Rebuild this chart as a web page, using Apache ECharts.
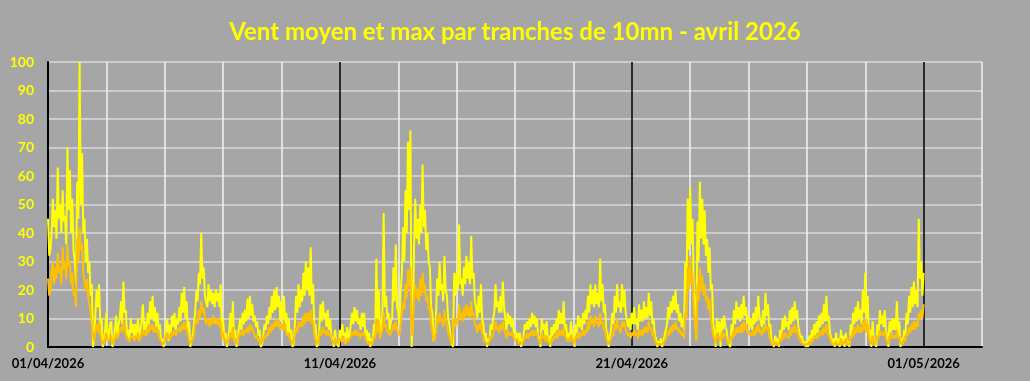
<!DOCTYPE html>
<html>
<head>
<meta charset="utf-8">
<script src="https://cdn.jsdelivr.net/npm/echarts@6/dist/echarts.min.js"></script>
<style>
  html, body { margin: 0; padding: 0; background: #a6a6a6; }
  #chart { width: 1030px; height: 381px; }
</style>
</head>
<body>
<div id="chart"></div>
<script>
// values, km/h, one value per hour (24 per day)
const perDay = 24;

const dateLabels = ['01/04/2026', '11/04/2026', '21/04/2026', '01/05/2026'];

// vent max
const maxWind = [
  45, 32, 34, 40, 52, 42, 48, 38, 63, 45, 50, 40, 55, 44, 46, 36, 70, 48, 62, 40, 52, 34, 30, 22, // 01/04
  58, 45, 100, 50, 68, 40, 45, 30, 38, 26, 30, 18, 22, 0, 3, 12, 20, 14, 22, 8, 10, 0, 2, 6,
  12, 2, 4, 8, 9, 0, 2, 6, 11, 4, 8, 10, 16, 8, 23, 12, 13, 4, 6, 2, 10, 5, 8, 3,
  8, 4, 10, 3, 6, 9, 15, 6, 9, 5, 12, 8, 16, 10, 18, 9, 14, 7, 12, 6, 8, 2, 3, 0,
  3, 6, 10, 2, 8, 5, 11, 7, 12, 6, 10, 8, 14, 9, 19, 12, 21, 10, 16, 5, 9, 0, 2, 4,
  8, 12, 20, 16, 26, 22, 40, 24, 28, 18, 18, 14, 22, 16, 20, 15, 19, 14, 20, 16, 19, 14, 22, 4,
  10, 3, 5, 0, 2, 6, 12, 4, 16, 2, 6, 0, 2, 7, 10, 6, 12, 8, 13, 9, 17, 10, 18, 11,
  15, 9, 11, 7, 9, 4, 6, 0, 1, 4, 8, 6, 11, 8, 14, 10, 18, 12, 20, 13, 21, 14, 18, 9,
  16, 10, 18, 8, 12, 5, 10, 3, 6, 0, 1, 8, 18, 12, 22, 14, 20, 16, 26, 18, 30, 20, 28, 18,
  35, 15, 22, 6, 8, 0, 1, 5, 15, 9, 16, 10, 12, 7, 13, 6, 10, 4, 3, 0, 6, 2, 2, 0,
  6, 3, 8, 4, 5, 2, 7, 3, 4, 8, 12, 8, 14, 9, 13, 8, 10, 6, 12, 7, 12, 4, 6, 2,             // 11/04
  5, 0, 3, 2, 8, 4, 31, 10, 20, 4, 6, 12, 47, 14, 18, 10, 12, 6, 9, 10, 28, 16, 36, 14,
  12, 8, 20, 26, 42, 30, 55, 40, 72, 48, 76, 0, 10, 35, 52, 38, 45, 36, 50, 40, 64, 42, 48, 34,
  40, 30, 28, 14, 12, 2, 3, 10, 24, 18, 30, 20, 22, 16, 32, 20, 18, 10, 8, 4, 1, 0, 26, 18,
  26, 20, 43, 22, 24, 18, 28, 22, 32, 24, 30, 22, 39, 24, 26, 16, 14, 10, 18, 12, 22, 10, 8, 2,
  5, 0, 3, 2, 8, 6, 10, 12, 22, 14, 16, 12, 18, 12, 23, 14, 10, 6, 12, 8, 11, 7, 10, 5,
  6, 3, 5, 2, 5, 0, 2, 4, 8, 6, 9, 6, 10, 7, 12, 8, 11, 7, 10, 4, 3, 0, 10, 6,
  8, 4, 9, 3, 4, 0, 7, 4, 8, 5, 10, 6, 13, 8, 12, 8, 16, 6, 8, 3, 5, 2, 9, 5,
  4, 0, 8, 5, 11, 7, 10, 6, 12, 8, 13, 10, 18, 12, 22, 15, 20, 14, 22, 15, 19, 14, 31, 16,
  22, 12, 15, 6, 5, 0, 3, 6, 12, 8, 18, 12, 22, 14, 16, 12, 22, 14, 20, 12, 12, 7, 10, 6,
  12, 8, 14, 8, 10, 6, 15, 9, 13, 9, 16, 10, 14, 10, 19, 11, 16, 8, 10, 4, 3, 0, 2, 1,      // 21/04
  3, 0, 2, 4, 6, 8, 14, 10, 16, 12, 18, 13, 20, 12, 15, 9, 12, 7, 10, 6, 30, 20, 52, 34,
  56, 36, 45, 20, 15, 3, 44, 30, 58, 38, 52, 36, 48, 32, 38, 26, 35, 20, 22, 8, 5, 0, 10, 5,
  9, 0, 10, 6, 11, 7, 6, 2, 2, 0, 8, 5, 13, 8, 16, 10, 14, 9, 15, 10, 18, 11, 14, 8,
  11, 7, 10, 6, 12, 8, 14, 9, 18, 11, 11, 7, 13, 8, 19, 11, 15, 7, 8, 2, 2, 0, 4, 1,
  3, 0, 6, 3, 10, 6, 11, 7, 9, 6, 13, 8, 14, 9, 16, 10, 13, 7, 7, 3, 4, 1, 2, 0,
  2, 0, 4, 1, 6, 3, 8, 4, 9, 5, 11, 7, 12, 8, 15, 9, 18, 9, 11, 5, 5, 1, 3, 0,
  5, 1, 3, 0, 6, 2, 4, 0, 5, 1, 2, 0, 8, 4, 12, 8, 14, 9, 16, 10, 13, 8, 20, 12,
  26, 10, 18, 4, 6, 0, 9, 3, 3, 0, 8, 4, 13, 8, 11, 7, 13, 6, 4, 0, 9, 5, 10, 6,
  10, 6, 16, 4, 9, 0, 3, 2, 6, 4, 12, 8, 18, 12, 21, 14, 23, 15, 20, 14, 45, 24, 30, 18,
  26                                                                                       // 01/05 00h
];

// vent moyen
const meanWind = [
  24, 18, 20, 26, 30, 22, 28, 24, 33, 26, 28, 22, 35, 27, 30, 24, 36, 28, 30, 22, 26, 18, 20, 14, // 01/04
  38, 30, 42, 34, 36, 26, 26, 20, 24, 18, 18, 12, 12, 4, 2, 6, 8, 5, 9, 4, 4, 1, 1, 3,
  5, 2, 2, 3, 4, 1, 1, 3, 5, 3, 4, 6, 7, 5, 9, 6, 6, 3, 3, 2, 4, 3, 4, 2,
  4, 3, 5, 2, 3, 5, 6, 4, 5, 4, 7, 5, 8, 6, 8, 5, 7, 5, 6, 4, 4, 2, 2, 1,
  2, 4, 5, 3, 4, 3, 5, 4, 6, 4, 5, 6, 7, 5, 8, 6, 9, 6, 7, 4, 4, 1, 1, 3,
  4, 8, 10, 8, 13, 10, 16, 12, 14, 10, 8, 10, 9, 7, 10, 8, 11, 8, 10, 8, 10, 7, 9, 3,
  5, 2, 3, 1, 1, 3, 5, 3, 7, 2, 3, 1, 1, 4, 5, 4, 6, 4, 6, 5, 7, 5, 8, 6,
  7, 5, 5, 3, 4, 2, 3, 1, 1, 3, 4, 3, 5, 4, 7, 5, 8, 6, 9, 7, 10, 7, 9, 6,
  8, 6, 9, 6, 6, 4, 5, 3, 3, 1, 1, 4, 7, 5, 9, 7, 9, 7, 11, 8, 12, 9, 12, 9,
  13, 8, 9, 4, 4, 1, 1, 3, 6, 4, 7, 5, 6, 4, 6, 4, 5, 3, 2, 1, 3, 2, 1, 1,
  3, 2, 4, 2, 2, 1, 3, 2, 2, 4, 5, 4, 6, 4, 6, 4, 5, 3, 5, 4, 5, 3, 3, 1,                // 11/04
  2, 1, 2, 1, 4, 3, 10, 5, 9, 3, 3, 6, 12, 7, 8, 5, 6, 4, 5, 6, 8, 6, 9, 6,
  6, 4, 8, 12, 16, 13, 22, 17, 27, 21, 28, 4, 6, 18, 22, 17, 20, 16, 24, 18, 26, 19, 22, 16,
  18, 13, 14, 8, 6, 2, 2, 5, 11, 8, 12, 9, 10, 7, 13, 9, 8, 5, 4, 2, 1, 1, 10, 7,
  10, 8, 15, 10, 12, 9, 14, 10, 15, 11, 14, 10, 16, 11, 12, 8, 7, 5, 8, 6, 9, 5, 4, 2,
  2, 1, 1, 2, 4, 3, 5, 6, 9, 6, 7, 5, 8, 6, 9, 6, 5, 3, 6, 4, 5, 4, 5, 3,
  3, 2, 3, 1, 2, 1, 1, 2, 4, 3, 5, 3, 5, 4, 6, 4, 6, 4, 5, 3, 2, 1, 5, 3,
  4, 2, 4, 2, 2, 1, 3, 2, 4, 3, 5, 3, 6, 4, 6, 4, 7, 4, 4, 2, 3, 2, 4, 3,
  2, 1, 4, 3, 5, 3, 5, 4, 6, 4, 6, 5, 9, 6, 11, 8, 10, 7, 11, 8, 9, 7, 12, 8,
  9, 6, 7, 3, 2, 1, 1, 3, 5, 4, 8, 6, 10, 7, 7, 5, 9, 7, 9, 6, 6, 4, 5, 3,
  5, 4, 6, 4, 5, 3, 6, 4, 6, 4, 7, 5, 7, 5, 9, 6, 7, 4, 5, 2, 2, 1, 1, 1,                // 21/04
  1, 1, 1, 2, 3, 4, 6, 4, 7, 5, 8, 6, 9, 6, 7, 5, 6, 4, 5, 3, 12, 10, 28, 20,
  32, 22, 26, 12, 8, 2, 22, 16, 28, 20, 25, 18, 22, 16, 18, 13, 17, 10, 10, 4, 3, 1, 5, 3,
  4, 2, 5, 3, 5, 4, 3, 1, 1, 2, 4, 3, 6, 4, 7, 5, 7, 5, 8, 5, 9, 6, 8, 5,
  6, 4, 5, 4, 6, 4, 7, 5, 8, 5, 6, 4, 7, 5, 8, 6, 7, 4, 4, 1, 1, 1, 2, 1,
  1, 1, 3, 2, 5, 3, 5, 4, 4, 3, 6, 4, 7, 5, 8, 5, 6, 4, 3, 2, 2, 1, 1, 1,
  1, 1, 2, 1, 3, 2, 4, 3, 4, 3, 5, 4, 6, 4, 7, 5, 8, 5, 5, 3, 2, 1, 1, 1,
  2, 1, 1, 1, 3, 1, 2, 1, 3, 1, 1, 1, 4, 3, 6, 4, 7, 5, 8, 5, 7, 5, 9, 6,
  10, 5, 8, 3, 3, 1, 4, 2, 1, 1, 4, 3, 6, 4, 5, 4, 6, 3, 2, 1, 4, 3, 5, 3,
  4, 3, 6, 3, 4, 1, 2, 1, 3, 2, 5, 4, 7, 5, 8, 6, 9, 6, 9, 7, 12, 10, 13, 10,
  15                                                                                       // 01/05 00h
];

// x in days since 01/04 00h
const toPoints = arr => arr.map((v, i) => [i / perDay, v]);

const chart = echarts.init(document.getElementById('chart'));

const option = {
  backgroundColor: '#a6a6a6',
  animation: false,
  title: {
    text: 'Vent moyen et max par tranches de 10mn - avril 2026',
    left: 'center',
    top: 15,
    textStyle: {
      color: '#ffff00',
      fontFamily: 'Lato',
      fontWeight: 'bold',
      fontSize: 24
    }
  },
  grid: { left: 48, right: 48, top: 62, bottom: 34 },
  xAxis: {
    type: 'value',
    min: 0,
    max: 32,
    interval: 2,
    axisLine: { lineStyle: { color: '#000', width: 2 } },
    axisTick: { show: false },
    axisLabel: {
      color: '#000',
      fontFamily: 'Lato',
      fontWeight: 'bold',
      fontSize: 13,
      margin: 10,
      formatter: v => (v % 10 === 0 ? dateLabels[v / 10] || '' : '')
    },
    // black line every 10 days, light ones every 2 days
    splitLine: {
      show: true,
      lineStyle: { color: ['#000', '#f2f2f2', '#f2f2f2', '#f2f2f2', '#f2f2f2'], width: 1.5 }
    }
  },
  yAxis: {
    type: 'value',
    min: 0,
    max: 100,
    interval: 10,
    axisLine: { show: true, lineStyle: { color: '#000', width: 2 } },
    axisTick: { show: false },
    axisLabel: {
      color: '#ffff00',
      fontFamily: 'Lato',
      fontWeight: 'bold',
      fontSize: 14,
      margin: 14
    },
    splitLine: { lineStyle: { color: '#d9d9d9', width: 1.5 } }
  },
  series: [
    {
      name: 'max',
      type: 'line',
      data: toPoints(maxWind),
      showSymbol: false,
      lineStyle: { color: '#ffff00', width: 2 },
      itemStyle: { color: '#ffff00' }
    },
    {
      name: 'moyen',
      type: 'line',
      data: toPoints(meanWind),
      showSymbol: false,
      lineStyle: { color: '#ffc000', width: 2 },
      itemStyle: { color: '#ffc000' }
    }
  ]
};

chart.setOption(option);
</script>
</body>
</html>
